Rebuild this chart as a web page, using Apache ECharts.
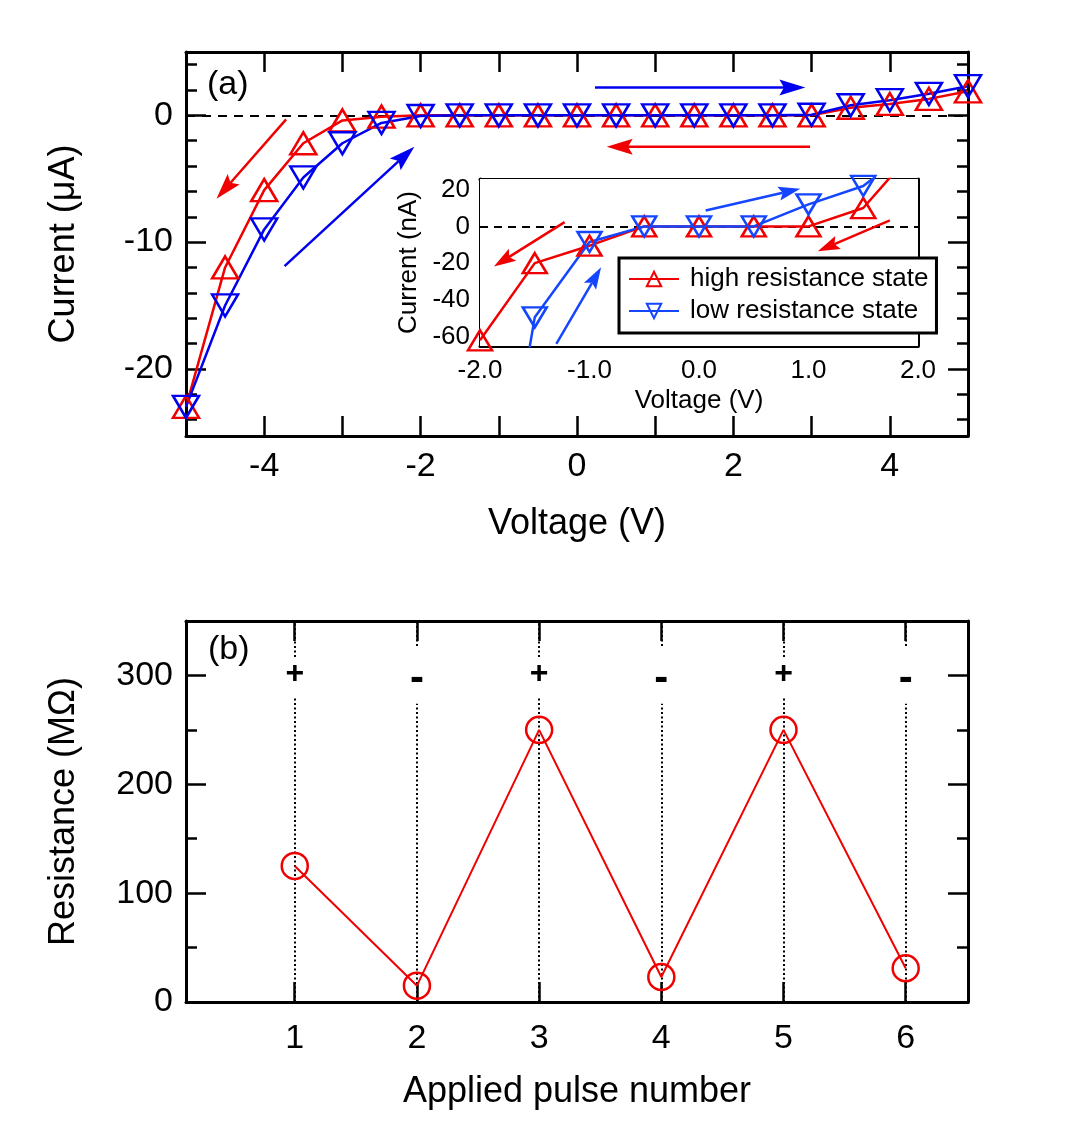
<!DOCTYPE html>
<html><head><meta charset="utf-8">
<script src="https://cdn.jsdelivr.net/npm/echarts@6/dist/echarts.min.js"></script>
<style>html,body{margin:0;padding:0;background:#fff}#c{width:1076px;height:1148px}</style>
</head><body><div id="c"></div>
<script>
// ---------------- data ----------------
const voltage      = [-5,-4.5,-4,-3.5,-3,-2.5,-2,-1.5,-1,-0.5,0,0.5,1,1.5,2,2.5,3,3.5,4,4.5,5];
const currentHigh  = [-23,-12,-5.9,-2.2,-0.4,-0.1,0,0,0,0,0,0,0,0,0,0,0,0.6,0.9,1.3,1.9];
const currentLow   = [-23,-15,-9,-4.9,-2.2,-0.6,-0.05,0,0,0,0,0,0,0,0,0,0.05,0.8,1.2,1.7,2.3];
const insetVoltage = [-2,-1.5,-1,-0.5,0,0.5,1,1.5,2];
const insetHigh    = [-62,-20,-10.5,0,0,0,0,10,44];
const insetLow     = [-224,-49.5,-8.5,0,0,0,12,22,45];
const pulseNumber  = [1,2,3,4,5,6];
const resistance   = [125,15,250,23,250,31];
const pulseSign    = ['+','-','+','-','+','-'];
// tick labels
const mainXTicks   = [-4,-2,0,2,4];
const mainYTicks   = [-20,-10,0];
const mainYMinor   = [-24,-22,-18,-16,-14,-12,-8,-6,-4,-2,2,4];
const insetXTicks  = [-2,-1,0,1,2];
const insetYTicks  = [-60,-40,-20,0,20];
const pulseYTicks  = [0,100,200,300];
const pulseYMinor  = [50,150,250];
// arrow annotations [x1,y1,x2,y2] in data units
const mainArrowsRed  = [[-3.72,-0.32,-4.61,-6.58],[2.98,-2.47,0.38,-2.47]];
const mainArrowsBlue = [[-3.74,-11.9,-2.08,-2.47],[0.23,2.19,2.92,2.19]];
const insetArrowsRed  = [[-1.227,2.3,-1.873,-21.8],[1.743,3.3,1.085,-13.5]];
const insetArrowsBlue = [[-1.303,-63.9,-0.894,-22.2],[0.061,8.7,0.925,20.5]];

// ---------------- styles ----------------
const FONT = '"Liberation Sans", Arial, Helvetica, sans-serif';
const RED = '#f00000', BLUE = '#0000f0', BLUE2 = '#1446ff', BLACK = '#000';
const TRI_UP = 'path://M1,0L2,1.732L0,1.732Z';
const TRI_DOWN = 'path://M0,0L2,0L1,1.732Z';

function axLine(w){ return {show:true, onZero:false, lineStyle:{color:BLACK, width:w}}; }
const hiddenLine = {show:false, onZero:false};
function tick(len, w, vals){ const t={show:true, inside:true, length:len, lineStyle:{color:BLACK, width:w}}; if(vals) t.customValues=vals; return t; }
const noLabel = {show:false};

const xAxis = [
  {gridIndex:0, type:'value', position:'bottom', min:-5, max:5, interval:1,
   axisLine:axLine(3), axisTick:tick(20,2.5), splitLine:{show:false},
   axisLabel:{customValues:mainXTicks, fontSize:34, color:BLACK, margin:14, fontFamily:FONT},
   name:'Voltage (V)', nameLocation:'middle', nameGap:70, nameTextStyle:{fontSize:36, color:BLACK, fontFamily:FONT}},
  {gridIndex:0, type:'value', position:'top', min:-5, max:5, interval:1,
   axisLine:axLine(3), axisTick:tick(20,2.5), splitLine:{show:false}, axisLabel:noLabel},
  {gridIndex:1, type:'value', position:'bottom', min:-2, max:2, interval:0.5,
   axisLine:axLine(3), axisTick:tick(13,2.5), splitLine:{show:false},
   axisLabel:{customValues:insetXTicks, formatter:v=>v.toFixed(1), fontSize:26, color:BLACK, margin:12, fontFamily:FONT},
   name:'Voltage (V)', nameLocation:'middle', nameGap:42, nameTextStyle:{fontSize:26, color:BLACK, fontFamily:FONT}},
  {gridIndex:1, type:'value', position:'top', min:-2, max:2, interval:0.5,
   axisLine:axLine(3), axisTick:tick(13,2.5), splitLine:{show:false}, axisLabel:noLabel},
  {gridIndex:2, type:'value', position:'bottom', min:0.11, max:6.51,
   axisLine:axLine(3), axisTick:tick(20,2.5,pulseNumber), splitLine:{show:false},
   axisLabel:{customValues:pulseNumber, fontSize:34, color:BLACK, margin:20, fontFamily:FONT},
   name:'Applied pulse number', nameLocation:'middle', nameGap:72, nameTextStyle:{fontSize:36, color:BLACK, fontFamily:FONT}},
  {gridIndex:2, type:'value', position:'top', min:0.11, max:6.51,
   axisLine:axLine(3), axisTick:tick(20,2.5,pulseNumber), splitLine:{show:false}, axisLabel:noLabel}
];
const yAxis = [
  {gridIndex:0, type:'value', position:'left', min:-25.3, max:5,
   axisLine:axLine(3), axisTick:tick(20,2.5,mainYTicks), splitLine:{show:false},
   axisLabel:{customValues:mainYTicks, fontSize:34, color:BLACK, margin:13, fontFamily:FONT},
   name:'Current (\u03bcA)', nameLocation:'middle', nameRotate:90, nameGap:104, nameTextStyle:{fontSize:36, color:BLACK, fontFamily:FONT}},
  {gridIndex:0, type:'value', position:'right', min:-25.3, max:5,
   axisLine:axLine(3), axisTick:tick(20,2.5,mainYTicks), splitLine:{show:false}, axisLabel:noLabel},
  {gridIndex:0, type:'value', position:'left', min:-25.3, max:5,
   axisLine:hiddenLine, axisTick:tick(11,2.5,mainYMinor), splitLine:{show:false}, axisLabel:noLabel},
  {gridIndex:0, type:'value', position:'right', min:-25.3, max:5,
   axisLine:hiddenLine, axisTick:tick(11,2.5,mainYMinor), splitLine:{show:false}, axisLabel:noLabel},
  {gridIndex:1, type:'value', position:'left', min:-65.1, max:25.8,
   axisLine:axLine(3), axisTick:tick(14,2.5,insetYTicks), splitLine:{show:false},
   axisLabel:{customValues:insetYTicks, fontSize:26, color:BLACK, margin:10, fontFamily:FONT},
   name:'Current (nA)', nameLocation:'middle', nameRotate:90, nameGap:58, nameTextStyle:{fontSize:26, color:BLACK, fontFamily:FONT}},
  {gridIndex:1, type:'value', position:'right', min:-65.1, max:25.8,
   axisLine:axLine(3), axisTick:tick(14,2.5,insetYTicks), splitLine:{show:false}, axisLabel:noLabel},
  {gridIndex:2, type:'value', position:'left', min:0, max:350,
   axisLine:axLine(3), axisTick:tick(20,2.5,pulseYTicks), splitLine:{show:false},
   axisLabel:{customValues:pulseYTicks, fontSize:34, color:BLACK, margin:13, fontFamily:FONT},
   name:'Resistance (M\u03a9)', nameLocation:'middle', nameRotate:90, nameGap:104, nameTextStyle:{fontSize:36, color:BLACK, fontFamily:FONT}},
  {gridIndex:2, type:'value', position:'right', min:0, max:350,
   axisLine:axLine(3), axisTick:tick(20,2.5,pulseYTicks), splitLine:{show:false}, axisLabel:noLabel},
  {gridIndex:2, type:'value', position:'left', min:0, max:350,
   axisLine:hiddenLine, axisTick:tick(11,2.5,pulseYMinor), splitLine:{show:false}, axisLabel:noLabel},
  {gridIndex:2, type:'value', position:'right', min:0, max:350,
   axisLine:hiddenLine, axisTick:tick(11,2.5,pulseYMinor), splitLine:{show:false}, axisLabel:noLabel}
];

function arrowRender(headLen, headHalf, color, width){
  return function(params, api){
    const a = api.coord([api.value(0), api.value(1)]);
    const b = api.coord([api.value(2), api.value(3)]);
    const dx=b[0]-a[0], dy=b[1]-a[1], len=Math.hypot(dx,dy);
    const ux=dx/len, uy=dy/len, px=-uy, py=ux;
    const base=[b[0]-ux*headLen, b[1]-uy*headLen];
    const notch=[b[0]-ux*headLen*0.82, b[1]-uy*headLen*0.82];
    return {type:'group', children:[
      {type:'line', shape:{x1:a[0],y1:a[1],x2:notch[0],y2:notch[1]}, style:{stroke:color, lineWidth:width}},
      {type:'polygon', shape:{points:[[b[0],b[1]],[base[0]+px*headHalf, base[1]+py*headHalf],notch,[base[0]-px*headHalf, base[1]-py*headHalf]]}, style:{fill:color}}
    ]};
  };
}
function arrowSeries(data, xi, yi, hl, hh, color, w){
  return {type:'custom', xAxisIndex:xi, yAxisIndex:yi, data:data, encode:{x:[0,2], y:[1,3]},
    renderItem:arrowRender(hl,hh,color,w), clip:false, silent:true, z:4};
}
function curve(name, xs, ys, xi, yi, sym, size, color, lw){
  return {type:'line', name:name, xAxisIndex:xi, yAxisIndex:yi, data:xs.map((x,i)=>[x,ys[i]]),
    symbol:sym, symbolSize:size, showAllSymbol:true,
    itemStyle:{color:'rgba(0,0,0,0)', borderColor:color, borderWidth:2.5},
    lineStyle:{color:color, width:lw}, emphasis:{disabled:true}, z:3, animation:false};
}

// dotted pulse markers (gap left around the +/- sign)
const dotted = [];
pulseNumber.forEach((p,i)=>{
  const plus = pulseSign[i] === '+';
  dotted.push({coords:[[p,0],[p, plus?279:274]]});
  dotted.push({coords:[[p, plus?317:327],[p,350]]});
});

const option = {
  animation:false,
  backgroundColor:'#fff',
  textStyle:{fontFamily:FONT},
  grid:[
    {left:186, top:52, width:782, height:384},
    {left:480, top:179, width:438, height:167, show:true, backgroundColor:'#fff', borderWidth:0, z:3},
    {left:186, top:621, width:782, height:381}
  ],
  xAxis:xAxis, yAxis:yAxis,
  legend:{data:['high resistance state','low resistance state'], orient:'vertical', left:619, top:258,
    padding:[8,8,9,9], itemGap:6, itemWidth:50, itemHeight:18, selectedMode:false,
    backgroundColor:'#fff', borderColor:BLACK, borderWidth:3, z:10,
    textStyle:{fontSize:26, color:BLACK, fontFamily:FONT, padding:[0,0,0,6]}},
  graphic:[
    {type:'text', left:207, top:68, style:{text:'(a)', fontSize:34, fill:BLACK, font:'34px '+FONT}},
    {type:'text', left:208, top:633, style:{text:'(b)', fontSize:34, fill:BLACK, font:'34px '+FONT}}
  ],
  series:[
    {type:'lines', coordinateSystem:'cartesian2d', xAxisIndex:0, yAxisIndex:0, silent:true, z:1,
     data:[{coords:[[-5,0],[5,0]]}], lineStyle:{color:BLACK, width:2, type:[9,7], opacity:1}},
    curve('HRS main', voltage, currentHigh, 0, 0, TRI_UP, [26,22], RED, 2.5),
    curve('LRS main', voltage, currentLow, 0, 0, TRI_DOWN, [26,22], BLUE, 2.5),
    arrowSeries(mainArrowsRed, 0, 0, 26, 8, RED, 2.5),
    arrowSeries(mainArrowsBlue, 0, 0, 26, 8, BLUE, 2.5),
    {type:'lines', coordinateSystem:'cartesian2d', xAxisIndex:2, yAxisIndex:4, silent:true, z:3,
     data:[{coords:[[-2,0],[2,0]]}], lineStyle:{color:BLACK, width:2, type:[8,6], opacity:1}},
    Object.assign(curve('high resistance state', insetVoltage, insetHigh, 2, 4, TRI_UP, [24,20], RED, 2.5), {z:5}),
    Object.assign(curve('low resistance state', insetVoltage, insetLow, 2, 4, TRI_DOWN, [24,20], BLUE2, 2.5), {z:5}),
    Object.assign(arrowSeries(insetArrowsRed, 2, 4, 22, 7, RED, 2.5), {z:6}),
    Object.assign(arrowSeries(insetArrowsBlue, 2, 4, 22, 7, BLUE2, 2.5), {z:6}),
    {type:'lines', coordinateSystem:'cartesian2d', xAxisIndex:4, yAxisIndex:6, silent:true, z:1,
     data:dotted, lineStyle:{color:BLACK, width:2, type:[2,2.5], opacity:1}},
    {type:'scatter', xAxisIndex:4, yAxisIndex:6, silent:true, symbolSize:1,
     itemStyle:{color:'rgba(0,0,0,0)', opacity:1},
     data:pulseNumber.map((p,i)=>{
       const plus = pulseSign[i]==='+';
       return {value:[p, plus?301:296], label:{formatter:pulseSign[i], fontSize: plus?32:42}};
     }),
     label:{show:true, position:'inside', fontWeight:'bold', color:BLACK, opacity:1, fontFamily:FONT}},
    curve('Resistance', pulseNumber, resistance, 4, 6, 'circle', 26, RED, 2)
  ]
};
const chart = echarts.init(document.getElementById('c'), null, {renderer:'canvas'});
chart.setOption(option);
</script></body></html>
